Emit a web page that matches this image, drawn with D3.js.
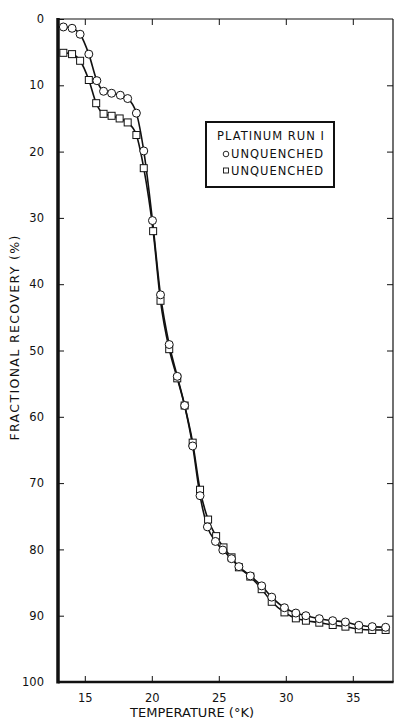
<!DOCTYPE html>
<html>
<head>
<meta charset="utf-8">
<script src="https://cdn.jsdelivr.net/npm/d3@7"></script>
<style>
  body { margin: 0; background: #fff; }
  text { font-family: "DejaVu Sans", "Liberation Sans", sans-serif; fill: #111; }
</style>
</head>
<body>
<svg id="chart" width="396" height="721"></svg>
<script>
// values
var circleTemp = [13.4, 14.05, 14.65, 15.3, 15.9, 16.4, 17.0, 17.65, 18.2, 18.85, 19.4, 20.05,
  20.65, 21.3, 21.9, 22.45, 23.05, 23.6, 24.15, 24.75, 25.3, 25.95, 26.5, 27.35, 28.2, 28.95,
  29.9, 30.75, 31.5, 32.5, 33.5, 34.45, 35.45, 36.45, 37.45];
var circleRec = [1.2, 1.4, 2.3, 5.3, 9.3, 10.9, 11.2, 11.5, 12.0, 14.2, 19.9, 30.4,
  41.6, 49.1, 53.9, 58.3, 64.4, 71.9, 76.6, 78.8, 80.1, 81.4, 82.6, 84.0, 85.5, 87.2,
  88.8, 89.6, 90.0, 90.45, 90.75, 90.95, 91.45, 91.65, 91.75];

var squareTemp = [13.4, 14.05, 14.65, 15.3, 15.85, 16.4, 17.0, 17.6, 18.2, 18.85, 19.4, 20.1,
  20.65, 21.3, 21.9, 22.45, 23.05, 23.6, 24.2, 24.8, 25.35, 25.95, 26.5, 27.35, 28.2, 28.95,
  29.9, 30.75, 31.5, 32.5, 33.5, 34.45, 35.45, 36.45, 37.45];
var squareRec = [5.1, 5.3, 6.3, 9.2, 12.7, 14.3, 14.6, 15.0, 15.6, 17.5, 22.5, 32.0,
  42.5, 49.8, 54.2, 58.3, 63.9, 71.0, 75.5, 78.0, 79.7, 81.2, 82.7, 84.1, 86.0, 87.9,
  89.5, 90.4, 90.75, 91.05, 91.4, 91.65, 92.05, 92.15, 92.15];

var xTicks = [15, 20, 25, 30, 35];
var yTicks = [0, 10, 20, 30, 40, 50, 60, 70, 80, 90, 100];
var legendTitle = "PLATINUM RUN I";
var legendNames = ["UNQUENCHED", "UNQUENCHED"];

var pl = 58, pr = 393, pt = 19, pb = 682;

var svg = d3.select('#chart');
var x = d3.scaleLinear().domain([13, 38]).range([pl, pr]);
var y = d3.scaleLinear().domain([0, 100]).range([pt, pb]);

var circles = circleTemp.map((t, i) => [t, circleRec[i]]);
var squares = squareTemp.map((t, i) => [t, squareRec[i]]);

// frame: thin top/right, heavy left/bottom
svg.append('line').attr('x1', pl).attr('x2', pr).attr('y1', pt).attr('y2', pt)
  .attr('stroke', '#111').attr('stroke-width', 1.2);
svg.append('line').attr('x1', pr).attr('x2', pr).attr('y1', pt).attr('y2', pb)
  .attr('stroke', '#111').attr('stroke-width', 1.2);
svg.append('line').attr('x1', pl).attr('x2', pl).attr('y1', pt - 1).attr('y2', pb + 1.5)
  .attr('stroke', '#111').attr('stroke-width', 3.5);
svg.append('line').attr('x1', pl).attr('x2', pr + 0.6).attr('y1', pb).attr('y2', pb)
  .attr('stroke', '#111').attr('stroke-width', 2.5);

// inward ticks on all four sides
var tk = 6;
svg.append('g').attr('transform', 'translate(0,' + pb + ')')
  .call(d3.axisBottom(x).tickValues(xTicks).tickSize(-tk).tickPadding(tk + 6))
  .call(g => g.select('.domain').remove());
svg.append('g').attr('transform', 'translate(0,' + pt + ')')
  .call(d3.axisTop(x).tickValues(xTicks).tickSize(-tk).tickFormat(''))
  .call(g => g.select('.domain').remove());
svg.append('g').attr('transform', 'translate(' + pl + ',0)')
  .call(d3.axisLeft(y).tickValues(yTicks).tickSize(-tk).tickPadding(tk + 8))
  .call(g => g.select('.domain').remove());
svg.append('g').attr('transform', 'translate(' + pr + ',0)')
  .call(d3.axisRight(y).tickValues(yTicks.slice(1, -1)).tickSize(-tk).tickFormat(''))
  .call(g => g.select('.domain').remove());

svg.selectAll('.tick line').attr('stroke', '#111').attr('stroke-width', 1);
svg.selectAll('.tick text').style('font-size', '11.5px')
  .style('font-family', '"DejaVu Sans", sans-serif').attr('fill', '#111');

// axis titles
svg.append('text').attr('x', 192).attr('y', 717).attr('text-anchor', 'middle')
  .style('font-size', '13px').attr('textLength', 124).text('TEMPERATURE (°K)');
svg.append('text').attr('transform', 'translate(19,338) rotate(-90)').attr('text-anchor', 'middle')
  .style('font-size', '12.5px').attr('textLength', 205).text('FRACTIONAL RECOVERY (%)');

// curves
var line = d3.line().x(d => x(d[0])).y(d => y(d[1])).curve(d3.curveMonotoneX);
svg.append('path').datum(squares).attr('d', line)
  .attr('fill', 'none').attr('stroke', '#111').attr('stroke-width', 1.6);
svg.append('path').datum(circles).attr('d', line)
  .attr('fill', 'none').attr('stroke', '#111').attr('stroke-width', 1.6);

// markers
svg.append('g').selectAll('rect').data(squares).join('rect')
  .attr('x', d => x(d[0]) - 3.5).attr('y', d => y(d[1]) - 3.5)
  .attr('width', 7).attr('height', 7)
  .attr('fill', '#fff').attr('stroke', '#111').attr('stroke-width', 1);
svg.append('g').selectAll('circle').data(circles).join('circle')
  .attr('cx', d => x(d[0])).attr('cy', d => y(d[1])).attr('r', 4)
  .attr('fill', '#fff').attr('stroke', '#111').attr('stroke-width', 1);

// legend box
var lg = svg.append('g');
lg.append('rect').attr('x', 206).attr('y', 122).attr('width', 128).attr('height', 65)
  .attr('fill', '#fff').attr('stroke', '#111').attr('stroke-width', 2);
lg.append('text').attr('x', 217).attr('y', 140).style('font-size', '11.5px')
  .attr('textLength', 107).text(legendTitle);
lg.append('circle').attr('cx', 226).attr('cy', 154).attr('r', 2.8)
  .attr('fill', 'none').attr('stroke', '#111').attr('stroke-width', 0.9);
lg.append('rect').attr('x', 223.5).attr('y', 168).attr('width', 5).attr('height', 5)
  .attr('fill', 'none').attr('stroke', '#111').attr('stroke-width', 0.9);
lg.selectAll('text.name').data(legendNames).join('text').attr('class', 'name')
  .attr('x', 231).attr('y', (d, i) => 158 + i * 17).style('font-size', '11.5px')
  .attr('textLength', 92).text(d => d);
</script>
</body>
</html>
